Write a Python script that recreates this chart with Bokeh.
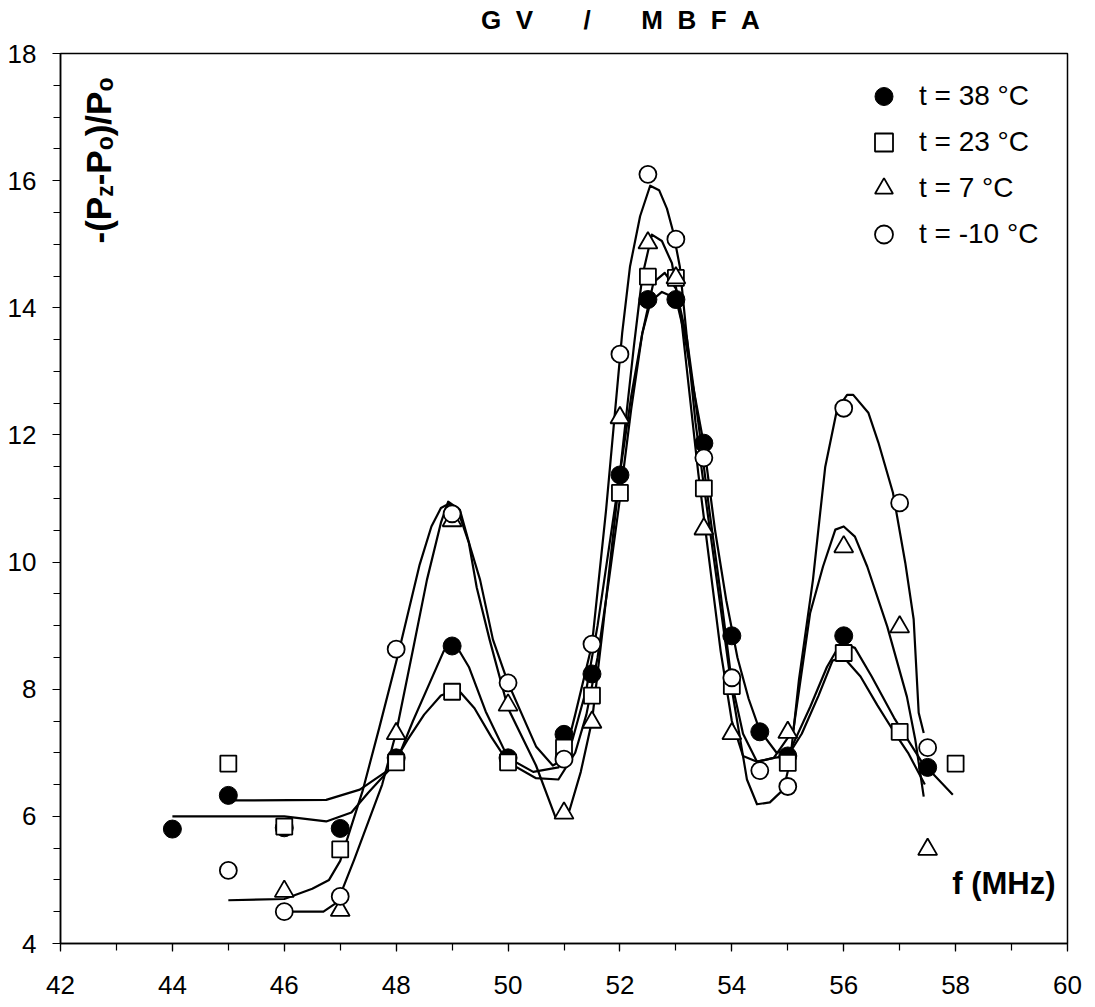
from math import pi
from bokeh.plotting import figure
from bokeh.layouts import column
from bokeh.models import (Range1d, SingleIntervalTicker, Legend, LegendItem, Label, Div)
from bokeh.embed import file_html
from bokeh.resources import INLINE

# ---------------- data ----------------
# measured points
f38 = [44, 45, 46, 47, 48, 49, 50, 51, 51.5, 52, 52.5, 53, 53.5, 54, 54.5, 55, 56, 57.5]
v38 = [5.80, 6.33, 5.82, 5.81, 6.92, 8.68, 6.92, 7.29, 8.24, 11.37, 14.13, 14.13, 11.87, 8.84, 7.33, 6.95, 8.84, 6.77]

f23 = [45, 46, 47, 48, 49, 50, 51, 51.5, 52, 52.5, 53, 53.5, 54, 55, 56, 57, 58]
v23 = [6.83, 5.84, 5.48, 6.85, 7.96, 6.85, 7.08, 7.90, 11.09, 14.49, 14.47, 11.16, 8.05, 6.84, 8.57, 7.33, 6.83]

f7 = [46, 47, 48, 49, 50, 51, 51.5, 52, 52.5, 53, 53.5, 54, 55, 56, 57, 57.5]
v7 = [4.82, 4.52, 7.30, 10.65, 7.75, 6.05, 7.48, 12.27, 15.02, 14.47, 10.52, 7.30, 7.32, 10.24, 8.98, 5.48]

fm10 = [45, 46, 47, 48, 49, 50, 51, 51.5, 52, 52.5, 53, 53.5, 54, 54.5, 55, 56, 57, 57.5]
vm10 = [5.15, 4.50, 4.74, 8.63, 10.76, 8.10, 6.90, 8.71, 13.27, 16.10, 15.08, 11.64, 8.18, 6.72, 6.47, 12.42, 10.93, 7.08]

# fitted curves
c38_x = [44.0, 46.0, 46.75, 47.2, 47.5, 48.0, 48.3, 48.6, 48.85, 49.05, 49.3, 49.6, 50.0, 50.45, 50.9,
         51.15, 51.4, 51.6, 51.8, 52.0, 52.2, 52.4, 52.55, 52.75, 53.0, 53.15, 53.3, 53.5, 53.7, 53.9,
         54.1, 54.3, 54.5, 54.8, 55.05, 55.4, 55.7, 55.95, 56.2, 56.5, 56.9, 57.4, 57.95]
c38_y = [6.0, 6.0, 5.92, 6.06, 6.37, 6.85, 7.5, 8.1, 8.6, 8.72, 8.35, 7.65, 6.92, 6.7, 6.77,
         7.2, 8.0, 9.0, 10.2, 11.4, 12.6, 13.6, 14.1, 14.25, 14.15, 13.6, 12.8, 11.85, 10.5, 9.4,
         8.5, 7.85, 7.35, 7.0, 7.05, 7.72, 8.35, 8.73, 8.65, 8.2, 7.55, 6.85, 6.34]

c23_x = [45.0, 46.75, 47.35, 47.9, 48.2, 48.5, 48.8, 49.1, 49.4, 49.7, 50.0, 50.5, 50.9, 51.2, 51.4,
         51.6, 51.8, 52.0, 52.2, 52.4, 52.6, 52.8, 53.0, 53.2, 53.4, 53.6, 53.8, 54.0, 54.2, 54.45,
         54.75, 55.0, 55.25, 55.55, 55.8, 56.0, 56.3, 56.6, 56.92, 57.15, 57.45]
c23_y = [6.25, 6.26, 6.42, 6.75, 7.2, 7.6, 7.9, 8.0, 7.7, 7.25, 6.85, 6.6, 6.58, 7.0, 7.6,
         8.5, 9.7, 11.0, 12.4, 13.6, 14.4, 14.55, 14.3, 13.5, 12.2, 10.8, 9.5, 8.1, 7.3, 6.86,
         6.92, 6.95, 7.3, 7.9, 8.45, 8.5, 8.2, 7.75, 7.3, 7.0, 6.5]

c7_x = [45.0, 46.0, 46.5, 46.8, 47.0, 47.4, 47.7, 48.05, 48.42, 48.63, 48.8, 48.95, 49.1, 49.3, 49.44,
        49.67, 50.0, 50.5, 50.85, 51.1, 51.3, 51.5, 51.7, 51.9, 52.1, 52.25, 52.4, 52.57, 52.75, 52.93,
        53.1, 53.25, 53.4, 53.6, 53.8, 54.0, 54.2, 54.45, 54.75, 55.1, 55.4, 55.63, 55.85, 56.0, 56.2,
        56.42, 56.78, 57.13, 57.28, 57.43]
c7_y = [4.68, 4.7, 4.86, 5.0, 5.3, 6.4, 7.4, 8.6, 9.96, 10.56, 10.85, 10.92, 10.82, 10.3, 9.6,
        8.78, 7.7, 6.8, 5.98, 6.1, 6.7, 7.5, 9.0, 10.6, 12.2, 13.4, 14.5, 15.15, 15.05, 14.7,
        13.8, 12.6, 11.4, 10.0, 8.6, 7.5, 6.95, 6.86, 6.92, 7.36, 9.2, 9.93, 10.51, 10.56, 10.4,
        9.93, 8.98, 7.88, 7.2, 6.31]

cm10_x = [46.0, 46.7, 46.95, 47.25, 47.75, 48.0, 48.3, 48.55, 48.8, 48.93, 49.14, 49.32, 49.5, 49.73, 50.0,
          50.5, 50.8, 51.0, 51.2, 51.5, 51.75, 52.04, 52.18, 52.36, 52.54, 52.7, 52.84, 52.95, 53.07, 53.2,
          53.35, 53.5, 53.75, 54.0, 54.27, 54.45, 54.68, 54.92, 55.04, 55.2, 55.45, 55.58, 55.67, 55.88, 56.06,
          56.17, 56.44, 56.62, 56.88, 57.1, 57.25, 57.34, 57.43]
cm10_y = [4.5, 4.5, 4.65, 5.32, 6.5, 7.32, 8.62, 9.72, 10.62, 10.95, 10.82, 10.25, 9.72, 8.78, 8.1,
          7.1, 6.8, 6.9, 7.6, 8.7, 10.8, 13.6, 14.65, 15.44, 15.92, 15.85, 15.56, 15.2, 14.65, 13.5,
          12.2, 11.2, 9.6, 8.0, 6.58, 6.19, 6.22, 6.42, 6.85, 8.15, 9.72, 10.78, 11.5, 12.4, 12.63,
          12.63, 12.35, 11.88, 11.09, 9.99, 9.1, 7.63, 7.31]

legend_labels = ["t = 38 °C", "t = 23 °C", "t = 7 °C", "t = -10 °C"]
NB = "\u00a0"
title_text = (NB * 2).join("GV") + NB * 7 + "/" + NB * 7 + (NB * 2).join("MBFA")
x_label = "f (MHz)"

# ---------------- figure ----------------
FONT = "Liberation Sans"
X0, X1, Y0, Y1 = 42, 60, 4, 18
FW, FH = 1007, 890
TITLE_H = 35

p = figure(width=1091, height=1003 - TITLE_H, x_range=Range1d(X0, X1), y_range=Range1d(Y0, Y1),
           output_backend="svg", toolbar_location=None,
           min_border_left=60, min_border_right=24, min_border_top=53 - TITLE_H, min_border_bottom=60)

def px2x(px):   # px right of frame left -> data x
    return X0 + px * (X1 - X0) / FW

def py2y(py):   # px below frame top -> data y
    return Y1 - py * (Y1 - Y0) / FH

p.xgrid.visible = False
p.ygrid.visible = False
p.outline_line_color = "black"
p.outline_line_width = 1.5
p.background_fill_color = "white"
p.border_fill_color = "white"

p.xaxis.ticker = SingleIntervalTicker(interval=2, num_minor_ticks=2)
p.yaxis.ticker = SingleIntervalTicker(interval=2, num_minor_ticks=4)
for ax in (p.xaxis[0], p.yaxis[0]):
    ax.axis_line_color = "black"
    ax.axis_line_width = 1.5
    ax.major_tick_line_color = "black"
    ax.minor_tick_line_color = "black"
    ax.major_tick_line_width = 1.2
    ax.minor_tick_line_width = 1.2
    ax.major_tick_in = 0
    ax.major_tick_out = 8
    ax.minor_tick_in = 0
    ax.minor_tick_out = 7
    ax.major_label_text_font = FONT
    ax.major_label_text_font_size = "26px"
    ax.major_label_text_color = "black"
p.xaxis.major_label_standoff = 24
p.yaxis.major_label_standoff = 16

# curves
LW = 2.2
for cx, cy in ((c38_x, c38_y), (c23_x, c23_y), (c7_x, c7_y), (cm10_x, cm10_y)):
    p.line(cx, cy, line_color="black", line_width=LW, line_join="round")

# markers
r38 = p.scatter(f38, v38, marker="circle", size=18, fill_color="black", line_color="black", line_width=1)
r23 = p.scatter(f23, v23, marker="square", size=16, fill_color="white", line_color="black", line_width=1.8)
r7 = p.scatter(f7, v7, marker="triangle", size=19, fill_color="white", line_color="black", line_width=1.8)
rm10 = p.scatter(fm10, vm10, marker="circle", size=17, fill_color="white", line_color="black", line_width=1.8)

legend = Legend(items=[LegendItem(label=l, renderers=[r]) for l, r in
                       zip(legend_labels, (r38, r23, r7, rm10))],
                location=(801, 686), glyph_width=45, glyph_height=46, spacing=0,
                padding=0, margin=0, label_standoff=13,
                label_text_font=FONT, label_text_font_size="28px", label_text_color="black",
                border_line_color=None, background_fill_alpha=0)
p.add_layout(legend)

# x axis title inside the frame
p.add_layout(Label(x=px2x(995), y=py2y(830), text=x_label, text_align="right",
                   text_baseline="alphabetic", text_font=FONT, text_font_style="bold",
                   text_font_size="31px", text_color="black"))

# y axis title, rotated, built from pieces with subscripts
BIG, SMALL = 35, 23
adv = {"-": 0.333, "(": 0.333, "P": 0.667, "z": 0.5, "o": 0.611, ")": 0.333, "/": 0.278}
pieces = [("-(P", BIG, 0), ("z", SMALL, 6), ("-P", BIG, 0), ("o", SMALL, 6), (")/P", BIG, 0), ("o", SMALL, 6)]
base_px = 38          # baseline, px right of frame left edge
pos = 190             # start, px below frame top
for txt, fs, shift in pieces:
    p.add_layout(Label(x=px2x(base_px + shift), y=py2y(pos), text=txt, angle=pi / 2,
                       text_align="left", text_baseline="alphabetic", text_font=FONT,
                       text_font_style="bold", text_font_size=f"{fs}px", text_color="black"))
    pos -= sum(adv[c] for c in txt) * fs

# title above the plot
title = Div(text=title_text, width=1091, height=TITLE_H, margin=(0, 0, 0, 0),
            styles={"font-family": FONT, "font-weight": "bold", "font-size": "26px",
                    "color": "black", "line-height": "30px", "padding-top": "5px",
                    "padding-left": "481px", "white-space": "pre", "box-sizing": "border-box"})

layout = column(title, p, spacing=0)
open("out.html", "w").write(file_html(layout, INLINE))
